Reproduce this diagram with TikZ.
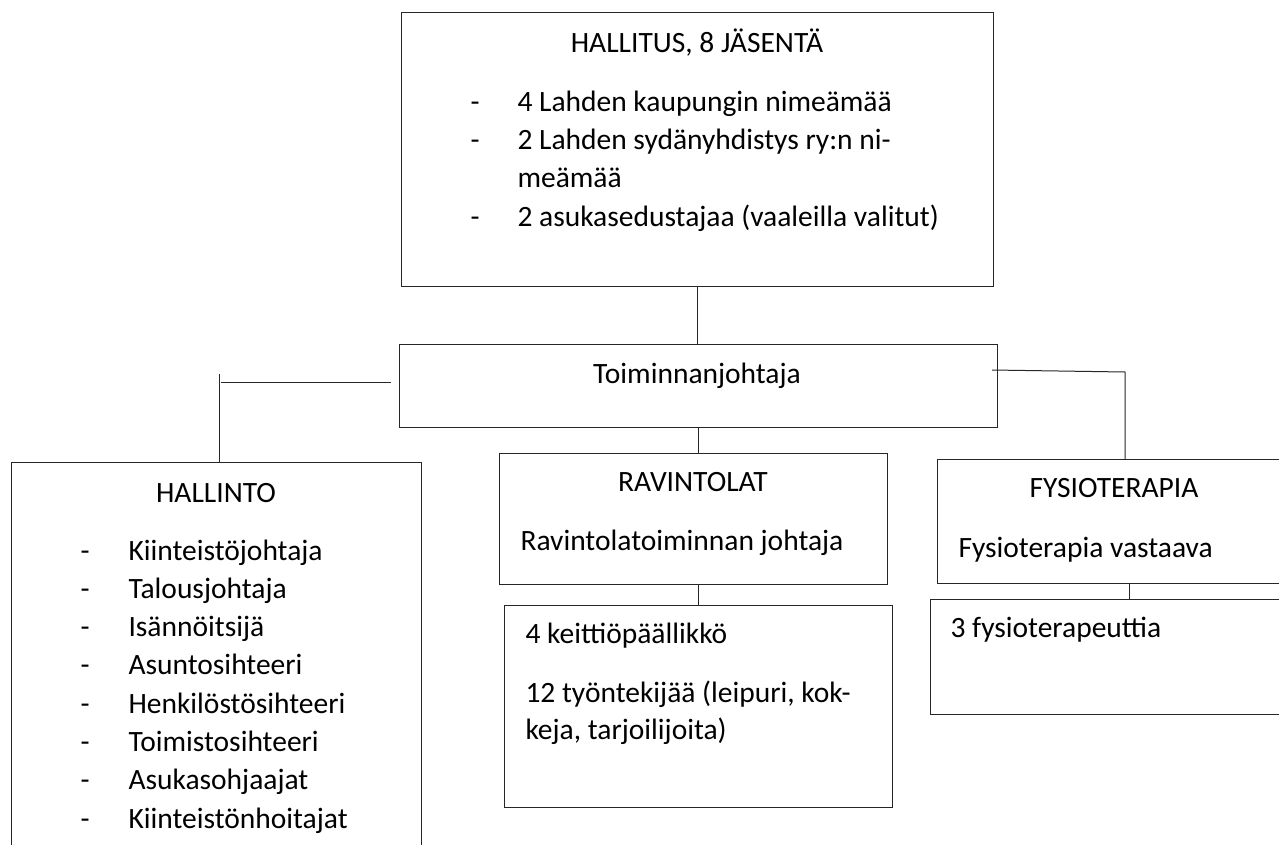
\documentclass[tikz,border=0pt]{standalone}
\usepackage{fontspec}
\setmainfont{Carlito}
\begin{document}
\begin{tikzpicture}[x=1pt,y=-1pt,line width=1pt,
  box/.style={draw=black!85, rectangle, anchor=north west, inner sep=0pt, outer sep=0pt},
  txt/.style={inner sep=0pt, text=black, font=\fontsize{29.5}{38}\selectfont},
  link/.style={draw=black!85, line width=1pt}]
\useasboundingbox (0,0) rectangle (1279,845);
\clip (0,0) rectangle (1279,845);
% boxes
\node[box, minimum width=592pt, minimum height=273pt] (board) at (401,13) {};
\node[box, minimum width=598pt, minimum height=83pt] (tj) at (399,344) {};
\node[box, minimum width=410pt, minimum height=450pt] (hallinto) at (11,462) {};
\node[box, minimum width=388pt, minimum height=131pt] (rav) at (499,453) {};
\node[box, minimum width=388pt, minimum height=202pt] (ravstaff) at (504,605) {};
\node[box, minimum width=400pt, minimum height=124pt] (fysio) at (937,459) {};
\node[box, minimum width=400pt, minimum height=115pt] (fysiostaff) at (930,599) {};
% board text
\node[txt, anchor=base] (boardT) at (697,53) {HALLITUS, 8 JÄSENTÄ};
\node[txt, anchor=base west] (bd1) at (470,112) {-};
\node[txt, anchor=base west] (bt1) at (517,112) {4 Lahden kaupungin nimeämää};
\node[txt, anchor=base west] (bd2) at (470,150) {-};
\node[txt, anchor=base west] (bt2) at (517,150) {2 Lahden sydänyhdistys ry:n ni-};
\node[txt, anchor=base west] (bt3) at (517,188) {meämää};
\node[txt, anchor=base west] (bd4) at (470,226) {-};
\node[txt, anchor=base west] (bt4) at (517,226) {2 asukasedustajaa (vaaleilla valitut)};
% toiminnanjohtaja
\node[txt, anchor=base] (tjT) at (697,383) {Toiminnanjohtaja};
% hallinto
\node[txt, anchor=base] (hT) at (216,502) {HALLINTO};
\foreach \y/\t [count=\i] in {560/Kiinteistöjohtaja, 598.3/Talousjohtaja, 636.6/Isännöitsijä, 674.9/Asuntosihteeri, 713.2/Henkilöstösihteeri, 751.5/Toimistosihteeri, 789.8/Asukasohjaajat, 828.1/Kiinteistönhoitajat}{
  \node[txt, anchor=base west] (hd\i) at (80,\y) {-};
  \node[txt, anchor=base west] (ht\i) at (128,\y) {\t};
}
% ravintolat
\node[txt, anchor=base] (rT) at (693,491) {RAVINTOLAT};
\node[txt, anchor=base west] (rL) at (520,550) {Ravintolatoiminnan johtaja};
\node[txt, anchor=base west] (rs1) at (525,643) {4 keittiöpäällikkö};
\node[txt, anchor=base west] (rs2) at (525,702) {12 työntekijää (leipuri, kok-};
\node[txt, anchor=base west] (rs3) at (525,739) {keja, tarjoilijoita)};
% fysioterapia
\node[txt, anchor=base] (fT) at (1114,497) {FYSIOTERAPIA};
\node[txt, anchor=base west] (fL) at (958,557) {Fysioterapia vastaava};
\node[txt, anchor=base west] (fs1) at (950,637) {3 fysioterapeuttia};
% connectors
\draw[link] (board.south) -- (board.south |- tj.north);
\coordinate (lh1) at (391,382);
\coordinate (lh2) at (221,382);
\draw[link] (lh1) -- (lh2);
\coordinate (lv) at (219,374);
\draw[link] (lv) -- (lv |- hallinto.north);
\draw[link] (tj.south) -- (tj.south |- rav.north);
\draw[link] (tj.south |- rav.south) -- (tj.south |- ravstaff.north);
\coordinate (r1) at (992,370);
\coordinate (r2) at (1125,372);
\draw[link] (r1) -- (r2) -- (r2 |- fysio.north);
\coordinate (f1) at (1129,0);
\draw[link] (f1 |- fysio.south) -- (f1 |- fysiostaff.north);
\end{tikzpicture}
\end{document}
